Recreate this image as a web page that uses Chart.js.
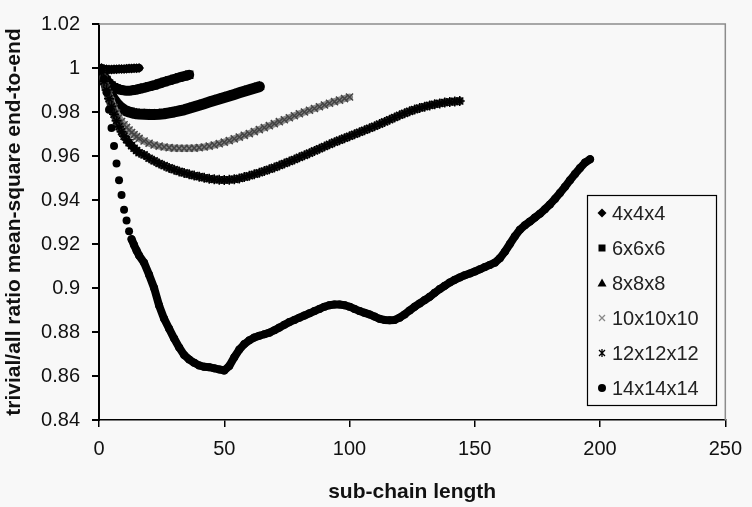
<!DOCTYPE html>
<html>
<head>
<meta charset="utf-8">
<script src="https://cdn.jsdelivr.net/npm/chart.js@4.4.0/dist/chart.umd.min.js"></script>
<style>
html, body { margin: 0; padding: 0; background: #f8f8f8; }
#wrap { width: 752px; height: 507px; }
</style>
</head>
<body>
<div id="wrap"><canvas id="chart" width="752" height="507"></canvas></div>
<script>
// lattice sizes
const lattices = ['4x4x4', '6x6x6', '8x8x8', '10x10x10', '12x12x12', '14x14x14']

// sub-chain lengths sampled (shared by all series, each uses the first n)
const subLen = [1,2,3,4,5,6,7,8,9,10,11,12,13,14,15,16,
    18,20,22,24,26,28,30,32,34,36,38,40,42,44,46,48,50,52,54,56,58,60,62,64,66,68,70,72,74,76,78,80,
    82,84,86,88,90,92,94,96,98,100,102,104,106,108,110,112,114,116,118,120,122,124,126,128,130,132,134,136,138,140,
    142,144,146,148,150,152,154,156,158,160,162,164,166,168,170,172,174,176,178,180,182,184,186,188,190,192,194,196]

// trivial/all ratio
const r4x4 = [1.0,0.9996,0.9994,0.9993,0.9993,0.9994,0.9994,0.9995,0.9996,0.9996,0.9997,0.9998,0.9998,0.9999,0.9999,1.0]
const r6x6 = [0.998,0.996,0.9945,0.993,0.992,0.9912,0.9907,0.9903,0.99,0.9898,0.9897,0.9897,0.9898,0.99,0.9902,0.9905,
    0.991,0.9916,0.9922,0.9929,0.9936,0.9943,0.995,0.9957,0.9963,0.9969]
const r8x8 = [0.998,0.995,0.992,0.9895,0.9873,0.9855,0.984,0.9828,0.9818,0.981,0.9804,0.98,0.9797,0.9794,0.9792,0.9791,
    0.979,0.9789,0.9789,0.979,0.9792,0.9796,0.98,0.9805,0.981,0.9817,0.9824,0.9831,0.9838,0.9845,0.9852,0.9859,
    0.9866,0.9873,0.988,0.9887,0.9894,0.9901,0.9908,0.9915]
const r10x10 = [0.998,0.995,0.991,0.988,0.985,0.982,0.9795,0.9775,0.9757,0.9742,0.973,0.9718,0.9707,0.9697,0.9688,0.968,
    0.9668,0.9658,0.965,0.9645,0.9641,0.9638,0.9636,0.9635,0.9635,0.9635,0.9636,0.9638,0.9641,0.9645,0.965,0.9656,
    0.9663,0.967,0.9678,0.9686,0.9694,0.9702,0.9711,0.972,0.9729,0.9738,0.9747,0.9756,0.9765,0.9774,0.9783,0.9792,
    0.98,0.9808,0.9816,0.9824,0.9832,0.984,0.9847,0.9854,0.9861,0.9868]
const r12x12 = [0.998,0.994,0.99,0.986,0.9825,0.979,0.976,0.9733,0.971,0.969,0.9674,0.966,0.9647,0.9635,0.9625,0.9615,
    0.9605,0.959,0.9578,0.9566,0.9556,0.9546,0.9538,0.953,0.9523,0.9517,0.9511,0.9506,0.9501,0.9497,0.9494,0.9492,
    0.9491,0.9492,0.9494,0.9498,0.9504,0.951,0.9517,0.9524,0.9532,0.954,0.9548,0.9557,0.9566,0.9575,0.9584,0.9594,
    0.9603,0.9613,0.9623,0.9633,0.9643,0.9653,0.9663,0.9672,0.9681,0.969,0.9699,0.9708,0.9717,0.9726,0.9735,0.9745,
    0.9755,0.9765,0.9775,0.9785,0.9794,0.9803,0.9811,0.9818,0.9824,0.983,0.9835,0.9839,0.9843,0.9846,0.9848,0.985]
const r14x14 = [0.999,0.995,0.989,0.981,0.9727,0.9646,0.9566,0.949,0.9423,0.9356,0.9307,0.9258,0.9222,0.9195,0.917,0.9148,
    0.9115,0.906,0.9,0.892,0.886,0.8815,0.877,0.873,0.8695,0.8675,0.866,0.8648,0.8642,0.864,0.8635,0.863,
    0.8625,0.8645,0.8685,0.872,0.8745,0.8762,0.8775,0.8783,0.879,0.8797,0.8808,0.882,0.8833,0.8845,0.8855,0.8865,
    0.8875,0.8885,0.8895,0.8905,0.8915,0.8922,0.8925,0.8925,0.8922,0.8915,0.8905,0.8895,0.8887,0.888,0.887,0.886,
    0.8855,0.8853,0.8855,0.8865,0.888,0.8898,0.8915,0.893,0.8945,0.896,0.8978,0.8995,0.901,0.9025,0.9037,0.9048,
    0.9058,0.9066,0.9075,0.9085,0.9095,0.9105,0.9115,0.9135,0.9165,0.92,0.9235,0.9265,0.9285,0.9302,0.932,0.9338,
    0.9358,0.938,0.9405,0.9432,0.946,0.949,0.9518,0.9545,0.957,0.9585]

const ratios = [r4x4, r6x6, r8x8, r10x10, r12x12, r14x14]

// axis ticks
const xTicks = [0, 50, 100, 150, 200, 250]
const yTicks = [0.84, 0.86, 0.88, 0.9, 0.92, 0.94, 0.96, 0.98, 1, 1.02]

const FONT = "'Liberation Sans', Arial, sans-serif"
const BG = '#f8f8f8'

// marker look; the dense markers merge into a thick band, drawn as a wide line under them
const markers = [
    {pointStyle: 'rectRot', radius: 5, color: '#000', border: '#000', bw: 0, band: '#000', width: 8},
    {pointStyle: 'rect', radius: 6, color: '#000', border: '#000', bw: 0, band: '#000', width: 10},
    {pointStyle: 'triangle', radius: 6, color: '#000', border: '#000', bw: 0, band: '#000', width: 11},
    {pointStyle: 'crossRot', radius: 5, color: '#444', border: '#444', bw: 1.5, band: '#8a8a8a', width: 7},
    {pointStyle: 'star', radius: 5, color: '#000', border: '#000', bw: 1.5, band: '#2a2a2a', width: 8},
    {pointStyle: 'circle', radius: 4, color: '#000', border: '#000', bw: 0, band: '#000', width: 8}
]

function toPoints(ys){
    return ys.map((y, i) => ({x: subLen[i], y: y}))
}

const datasets = lattices.map((name, i) => ({
    label: name,
    data: toPoints(ratios[i]),
    showLine: true,
    borderColor: markers[i].band,
    borderWidth: markers[i].width,
    borderJoinStyle: 'round',
    borderCapStyle: 'round',
    // the first steep points of 14x14x14 stay separate dots
    segment: i == 5 ? {borderColor: c => c.p1.parsed.x <= 13 ? 'rgba(0,0,0,0)' : undefined} : undefined,
    pointStyle: markers[i].pointStyle,
    pointRadius: markers[i].radius,
    pointBackgroundColor: markers[i].color,
    pointBorderColor: markers[i].border,
    pointBorderWidth: markers[i].bw,
    order: lattices.length - i
}))

// legend marker shapes drawn by hand
function legendMark(ctx, style, x, y){
    ctx.save()
    ctx.fillStyle = style.color
    ctx.strokeStyle = style.pointStyle == 'crossRot' ? '#888' : style.border
    ctx.lineWidth = 1.3
    ctx.beginPath()
    if (style.pointStyle == 'rectRot') {
        ctx.moveTo(x, y - 4.5); ctx.lineTo(x + 4.5, y); ctx.lineTo(x, y + 4.5); ctx.lineTo(x - 4.5, y)
        ctx.closePath(); ctx.fill()
    } else if (style.pointStyle == 'rect') {
        ctx.fillRect(x - 3.5, y - 3.5, 7, 7)
    } else if (style.pointStyle == 'triangle') {
        ctx.moveTo(x, y - 4.5); ctx.lineTo(x + 4.5, y + 3.5); ctx.lineTo(x - 4.5, y + 3.5)
        ctx.closePath(); ctx.fill()
    } else if (style.pointStyle == 'crossRot') {
        ctx.moveTo(x - 3, y - 3); ctx.lineTo(x + 3, y + 3)
        ctx.moveTo(x + 3, y - 3); ctx.lineTo(x - 3, y + 3)
        ctx.stroke()
    } else if (style.pointStyle == 'star') {
        ctx.moveTo(x - 3, y - 3); ctx.lineTo(x + 3, y + 3)
        ctx.moveTo(x + 3, y - 3); ctx.lineTo(x - 3, y + 3)
        ctx.moveTo(x, y - 4); ctx.lineTo(x, y + 4)
        ctx.stroke()
    } else {
        ctx.arc(x, y, 4, 0, Math.PI * 2); ctx.fill()
    }
    ctx.restore()
}

const paperPlugin = {
    id: 'paper',
    beforeDraw(chart){
        const ctx = chart.ctx
        ctx.save()
        ctx.fillStyle = BG
        ctx.fillRect(0, 0, chart.width, chart.height)
        ctx.restore()
    },
    beforeDatasetsDraw(chart){
        // grey frame on top and right of the plot area
        const a = chart.chartArea, ctx = chart.ctx
        ctx.save()
        ctx.strokeStyle = '#8c8c8c'
        ctx.lineWidth = 1.5
        ctx.beginPath()
        ctx.moveTo(a.left, a.top); ctx.lineTo(a.right, a.top); ctx.lineTo(a.right, a.bottom)
        ctx.stroke()
        ctx.restore()
    },
    afterDraw(chart){
        const ctx = chart.ctx
        const bx = 587, by = 195, bw = 129, bh = 210
        ctx.save()
        ctx.fillStyle = BG
        ctx.fillRect(bx, by, bw, bh)
        ctx.strokeStyle = '#000'
        ctx.lineWidth = 1.2
        ctx.strokeRect(bx + 0.5, by + 0.5, bw, bh)
        ctx.font = '20px ' + FONT
        ctx.textBaseline = 'middle'
        lattices.forEach((name, i) => {
            const y = by + 18 + i * 35
            legendMark(ctx, markers[i], 602, y)
            ctx.fillStyle = '#222'
            ctx.fillText(name, 612, y + 1)
        })
        ctx.restore()
    }
}

Chart.defaults.font.family = FONT
Chart.defaults.color = '#111'

new Chart(document.getElementById('chart'), {
    type: 'scatter',
    data: {datasets: datasets},
    plugins: [paperPlugin],
    options: {
        responsive: false,
        animation: false,
        layout: {padding: {top: 17, right: 18, left: 0, bottom: 0}},
        plugins: {
            legend: {display: false},
            tooltip: {enabled: false}
        },
        scales: {
            x: {
                type: 'linear',
                min: 0,
                max: 250,
                afterFit: (scale) => { scale.height = 87 },
                afterBuildTicks: (scale) => { scale.ticks = xTicks.map(v => ({value: v})) },
                ticks: {font: {size: 20}, padding: 10, color: '#111', maxRotation: 0},
                grid: {display: true, drawOnChartArea: false, drawTicks: true, tickLength: 7, color: '#000', lineWidth: 1.5},
                border: {display: true, color: '#000', width: 1.5},
                title: {display: true, text: 'sub-chain length', font: {size: 21, weight: 'bold'}, color: '#111', padding: {top: 0, bottom: 2}}
            },
            y: {
                min: 0.84,
                max: 1.02,
                afterFit: (scale) => { scale.width = 99 },
                afterBuildTicks: (scale) => { scale.ticks = yTicks.map(v => ({value: v})) },
                ticks: {
                    font: {size: 20},
                    padding: 12,
                    color: '#111',
                    callback: (v) => String(parseFloat(Number(v).toFixed(2)))
                },
                grid: {display: true, drawOnChartArea: false, drawTicks: true, tickLength: 7, color: '#000', lineWidth: 2},
                border: {display: true, color: '#000', width: 2},
                title: {display: true, text: 'trivial/all ratio mean-square end-to-end', font: {size: 21, weight: 'bold'}, color: '#111', padding: {top: 2, bottom: 0}}
            }
        }
    }
});
</script>
</body>
</html>
